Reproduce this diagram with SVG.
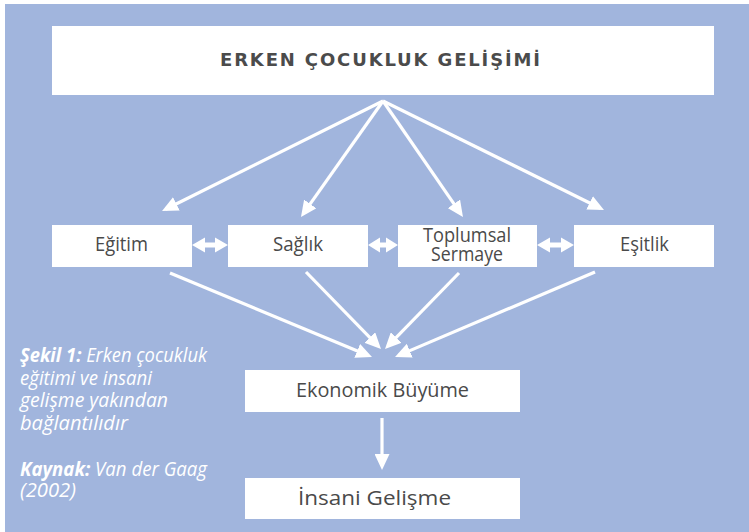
<svg xmlns="http://www.w3.org/2000/svg" width="749" height="532" viewBox="0 0 749 532">
<defs>
<style>
.box{fill:#ffffff}
.lbl{font-family:"Open Sans","Noto Sans",sans-serif;font-size:19.5px;fill:#4a4a4a;text-anchor:middle}
.ttl{font-family:"DejaVu Sans","Open Sans",sans-serif;font-size:18px;font-weight:bold;fill:#4b4b4b;text-anchor:middle}
.cap{font-family:"Open Sans","Noto Sans",sans-serif;font-size:20px;font-style:italic;fill:#ffffff}
.b{font-weight:bold}
.con line{stroke:#ffffff;stroke-width:3.2;fill:none;marker-end:url(#ah)}
.dbl{fill:#ffffff}
</style>
<marker id="ah" markerUnits="userSpaceOnUse" markerWidth="17" markerHeight="15" refX="12" refY="7.5" orient="auto" viewBox="0 0 17 15">
<path d="M0,0 L16,7.5 L0,15 Z" fill="#ffffff"/>
</marker>
</defs>
<rect x="0" y="0" width="749" height="532" fill="#ffffff"/>
<rect x="5" y="4" width="744" height="528" fill="#a1b5dd"/>

<g id="n-ecd">
<rect class="box" x="52" y="26" width="662" height="69"/>
<text class="ttl" x="380" y="65.5" textLength="320" lengthAdjust="spacing">ERKEN ÇOCUKLUK GELİŞİMİ</text>
</g>
<g id="n-egitim">
<rect class="box" x="52" y="225" width="140" height="42"/>
<text class="lbl" x="121.5" y="251" textLength="53" lengthAdjust="spacingAndGlyphs">Eğitim</text>
</g>
<g id="n-saglik">
<rect class="box" x="228" y="225" width="140" height="42"/>
<text class="lbl" x="298" y="251" textLength="50" lengthAdjust="spacingAndGlyphs">Sağlık</text>
</g>
<g id="n-toplumsal">
<rect class="box" x="398" y="225" width="139" height="42"/>
<text class="lbl" x="467" y="242" textLength="88" lengthAdjust="spacingAndGlyphs">Toplumsal</text>
<text class="lbl" x="467" y="261" textLength="72" lengthAdjust="spacingAndGlyphs">Sermaye</text>
</g>
<g id="n-esitlik">
<rect class="box" x="574" y="225" width="140" height="42"/>
<text class="lbl" x="644.5" y="251" textLength="49" lengthAdjust="spacingAndGlyphs">Eşitlik</text>
</g>
<g id="n-ekonomik">
<rect class="box" x="245" y="370" width="275" height="42"/>
<text class="lbl" x="382.5" y="397" textLength="173" lengthAdjust="spacingAndGlyphs">Ekonomik Büyüme</text>
</g>
<g id="n-insani">
<rect class="box" x="245" y="478" width="275" height="41"/>
<text class="lbl" x="374.5" y="505" textLength="153" lengthAdjust="spacingAndGlyphs">İnsani Gelişme</text>
</g>

<g id="connectors" class="con">
<line x1="383" y1="101" x2="165.6" y2="209.2"/>
<line x1="383" y1="101" x2="303.3" y2="213.7"/>
<line x1="383" y1="101" x2="460.7" y2="213.7"/>
<line x1="383" y1="101" x2="600.4" y2="208.2"/>
<line x1="170" y1="273" x2="368.3" y2="355.5"/>
<line x1="306" y1="272" x2="378.2" y2="346.1"/>
<line x1="459" y1="273" x2="387.8" y2="346.1"/>
<line x1="595" y1="272" x2="398.7" y2="355.4"/>
<line x1="382" y1="418" x2="382" y2="466"/>
<path class="dbl" d="M192,245 L205,237.5 L205,242.5 L215,242.5 L215,237.5 L228,245 L215,252.5 L215,247.5 L205,247.5 L205,252.5 Z"/>
<path class="dbl" d="M368,245 L380,237.5 L380,242.5 L386,242.5 L386,237.5 L398,245 L386,252.5 L386,247.5 L380,247.5 L380,252.5 Z"/>
<path class="dbl" d="M537,245 L550,237.5 L550,242.5 L561,242.5 L561,237.5 L574,245 L561,252.5 L561,247.5 L550,247.5 L550,252.5 Z"/>
</g>

<g id="caption">
<text class="cap" x="20" y="362" textLength="187" lengthAdjust="spacingAndGlyphs"><tspan class="b">Şekil 1:</tspan> Erken çocukluk</text>
<text class="cap" x="20" y="385" textLength="132" lengthAdjust="spacingAndGlyphs">eğitimi ve insani</text>
<text class="cap" x="20" y="407" textLength="148" lengthAdjust="spacingAndGlyphs">gelişme yakından</text>
<text class="cap" x="20" y="430" textLength="108" lengthAdjust="spacingAndGlyphs">bağlantılıdır</text>
<text class="cap" x="20" y="476" textLength="187" lengthAdjust="spacingAndGlyphs"><tspan class="b">Kaynak:</tspan> Van der Gaag</text>
<text class="cap" x="20" y="497" textLength="56" lengthAdjust="spacingAndGlyphs">(2002)</text>
</g>
</svg>
